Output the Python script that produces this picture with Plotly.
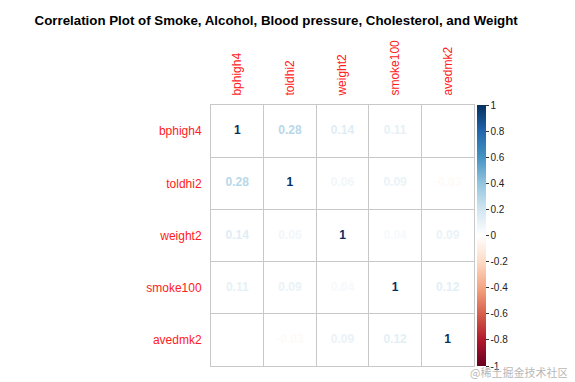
import plotly.graph_objects as go
from plotly.colors import sample_colorscale

variables = ["bphigh4", "toldhi2", "weight2", "smoke100", "avedmk2"]
corr = [
    [1.00, 0.28, 0.14, 0.11, 0.00],
    [0.28, 1.00, 0.06, 0.09, -0.03],
    [0.14, 0.06, 1.00, 0.04, 0.09],
    [0.11, 0.09, 0.04, 1.00, 0.12],
    [0.00, -0.03, 0.09, 0.12, 1.00],
]
cbar_ticks = [1, 0.8, 0.6, 0.4, 0.2, 0, -0.2, -0.4, -0.6, -0.8, -1]
title = "Correlation Plot of Smoke, Alcohol, Blood pressure, Cholesterol, and Weight"

rdbu = ["#67001F", "#B2182B", "#D6604D", "#F4A582", "#FDDBC7", "#FFFFFF",
        "#D1E5F0", "#92C5DE", "#4393C3", "#2166AC", "#053061"]
colorscale = [[i / 10, c] for i, c in enumerate(rdbu)]

n = len(variables)
xs, ys, txt, vals = [], [], [], []
for i in range(n):
    for j in range(n):
        v = corr[i][j]
        xs.append(j)
        ys.append(i)
        vals.append(v)
        txt.append(f"{v:g}")
cols = sample_colorscale(colorscale, [(v + 1) / 2 for v in vals])

fig = go.Figure()
fig.add_trace(go.Scatter(
    x=xs, y=ys, mode="text", text=txt,
    textfont=dict(family="Liberation Sans, Arial", size=12, color=cols, weight="bold"),
    hoverinfo="skip", showlegend=False,
))
fig.add_trace(go.Scatter(
    x=xs, y=ys, mode="markers",
    marker=dict(color=vals, colorscale=colorscale, cmin=-1, cmax=1, opacity=0, size=1,
                showscale=True,
                colorbar=dict(
                    thickness=9, len=261, lenmode="pixels",
                    x=1.011, xanchor="left", xpad=0,
                    y=1, yanchor="top", ypad=0,
                    outlinewidth=0, ticks="outside", ticklen=3, tickcolor="#333",
                    tickvals=cbar_ticks, ticktext=[f"{t:g}" for t in cbar_ticks],
                    tickfont=dict(family="Liberation Sans, Arial", size=10, color="#222"),
                )),
    hoverinfo="skip", showlegend=False,
))

axis_common = dict(
    range=[-0.5, n - 0.5], showgrid=False, zeroline=False,
    showline=True, linecolor="#c8c8c8", linewidth=1, mirror=True,
    ticks="", tickfont=dict(family="Liberation Sans, Arial", size=12, color="#ff2020"),
    minor=dict(tick0=0.5, dtick=1, showgrid=True, gridcolor="#c8c8c8", gridwidth=1, ticks=""),
    tickvals=list(range(n)), ticktext=variables, fixedrange=True, automargin=False,
)
fig.update_xaxes(**axis_common, side="top", tickangle=-90, ticklabelstandoff=6)
fig.update_yaxes(**axis_common)
fig.update_yaxes(range=[n - 0.5, -0.5], ticklabelstandoff=6)

fig.add_annotation(
    text="@稀土掘金技术社区", xref="paper", yref="paper", x=1.0, y=0,
    xanchor="right", yanchor="middle", xshift=96, yshift=-6, showarrow=False,
    font=dict(family="Noto Sans CJK SC", size=11, color="#b8b8b8"),
)

fig.update_layout(
    width=567, height=374,
    margin=dict(l=203, r=101, t=97, b=16, autoexpand=False),
    paper_bgcolor="white", plot_bgcolor="white",
    title=dict(text=title, x=0.473, xanchor="center", xref="container",
               y=1 - 12 / 374, yanchor="middle", yref="container",
               font=dict(family="Liberation Sans, Arial", size=13.3, color="black", weight="bold")),
)

fig.write_html("out.html")
